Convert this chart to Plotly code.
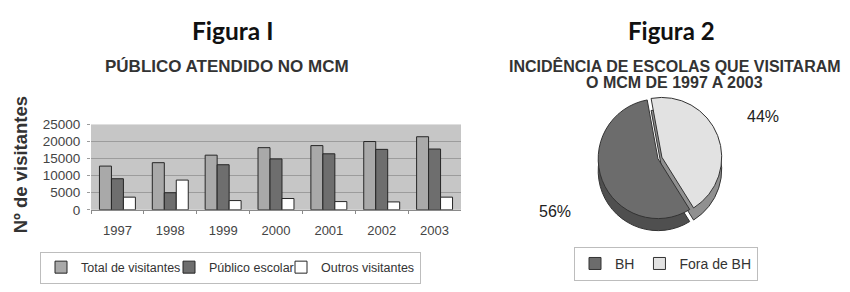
import plotly.graph_objects as go

# ---- data ----
years = ["1997", "1998", "1999", "2000", "2001", "2002", "2003"]
total_visitantes = [12800, 13800, 16000, 18200, 18800, 20000, 21400]
publico_escolar = [9100, 5000, 13200, 14900, 16400, 17700, 17800]
outros_visitantes = [3700, 8700, 2700, 3300, 2400, 2300, 3700]
y_ticks = [0, 5000, 10000, 15000, 20000, 25000]

pie_labels = ["BH", "Fora de BH"]
pie_values = [56, 44]

# the page body keeps an 8px margin on every side: the figure is sized so the
# whole page fits the 850x292 window exactly (no scrolling)
OFF = 8
W, H = 850 - 2 * OFF, 292 - 2 * OFF
def px_x(x):
    return (x - OFF) / W
def px_y(y):
    return (H - (y - OFF)) / H

AX = "Liberation Sans"
FIG = "Lato"

fig = go.Figure()

bar_series = [
    ("Total de visitantes", total_visitantes, "#a9a9a9", 83),
    ("Público escolar", publico_escolar, "#6e6e6e", 67),
    ("Outros visitantes", outros_visitantes, "#ffffff", None),
]
for name, vals, col, lw in bar_series:
    kw = {} if lw is None else dict(legendwidth=lw)
    fig.add_trace(go.Bar(
        x=years, y=vals, name=name,
        marker=dict(color=col, line=dict(color="#262626", width=1)),
        legend="legend", **kw,
    ))

PIE_L, PIE_R, PIE_TOP, PIE_BOT, DEPTH = 586, 730, 94, 232, 13
# side (depth) of the pie, drawn first
fig.add_trace(go.Pie(
    labels=pie_labels, values=pie_values, sort=False, direction="clockwise",
    rotation=148, pull=[0, 0.07], textinfo="none", hoverinfo="skip",
    marker=dict(colors=["#4f4f4f", "#909090"], line=dict(color="#333333", width=1)),
    domain=dict(x=[px_x(PIE_L), px_x(PIE_R)], y=[px_y(PIE_BOT + DEPTH), px_y(PIE_TOP + DEPTH)]),
    showlegend=False,
))
fig.add_trace(go.Pie(
    labels=pie_labels, values=pie_values, sort=False, direction="clockwise",
    rotation=148, pull=[0, 0.07], textinfo="none",
    marker=dict(colors=["#6c6c6c", "#e2e2e2"], line=dict(color="#333333", width=1)),
    domain=dict(x=[px_x(PIE_L), px_x(PIE_R)], y=[px_y(PIE_BOT), px_y(PIE_TOP)]),
    legend="legend2",
))

tot = sum(pie_values)
pct = [f"{v / tot * 100:.0f}%" for v in pie_values]

def ann(text, x, y, size, family=AX, color="#333", yanchor="middle", **kw):
    return dict(text=text, x=px_x(x), y=px_y(y), xref="paper", yref="paper",
                xanchor="center", yanchor=yanchor, showarrow=False,
                font=dict(family=family, size=size, color=color), **kw)

annotations = [
    ann("<b>Figura I</b>", 232, 8.5, 24.5, FIG, "#111", yanchor="top", borderpad=0),
    ann("<b>PÚBLICO ATENDIDO NO MCM</b>", 227, 64, 17),
    ann("<b>Nº de visitantes</b>", 20, 170, 18.5, textangle=-90),
    ann("<b>Figura 2</b>", 671, 8.5, 24, FIG, "#111", yanchor="top", borderpad=0),
    ann("<b>INCIDÊNCIA DE ESCOLAS QUE VISITARAM</b>", 675, 63, 16),
    ann("<b>O MCM DE 1997 A 2003</b>", 674, 81, 16),
    ann(pct[1], 763, 117, 16, color="#222"),
    ann(pct[0], 555, 220, 16, color="#222"),
]

fig.update_layout(
    width=W, height=H,
    margin=dict(l=0, r=0, t=0, b=0),
    paper_bgcolor="white",
    plot_bgcolor="#c6c6c6",
    barmode="group", bargap=0.32, bargroupgap=0,
    annotations=annotations,
    xaxis=dict(domain=[px_x(91), px_x(461)], type="category",
               showline=True, linecolor="#8a8a8a", ticks="outside", ticklen=3,
               tickcolor="#8a8a8a", tickson="boundaries", ticklabelstandoff=9,
               tickfont=dict(family=AX, size=13, color="#444"), showgrid=False),
    yaxis=dict(domain=[px_y(218), px_y(126)], range=[0, 25000], tickvals=y_ticks,
               tickformat="d",
               showgrid=True, gridcolor="#9c9c9c", gridwidth=1, zeroline=False,
               ticks="outside", ticklen=3, tickcolor="#9c9c9c", ticklabelstandoff=4,
               tickfont=dict(family=AX, size=13.5, color="#444")),
    legend=dict(orientation="h", x=px_x(40), y=px_y(263), xanchor="left", yanchor="top",
                bordercolor="#bdbdbd", borderwidth=1, bgcolor="white",
                font=dict(family=AX, size=12.5, color="#333"), itemwidth=30,
                traceorder="normal"),
    legend2=dict(orientation="h", x=px_x(666), y=px_y(258), xanchor="center", yanchor="top",
                 bordercolor="#bdbdbd", borderwidth=1, bgcolor="white",
                 font=dict(family=AX, size=14, color="#333"), itemwidth=30),
)

fig.write_html("out.html")
